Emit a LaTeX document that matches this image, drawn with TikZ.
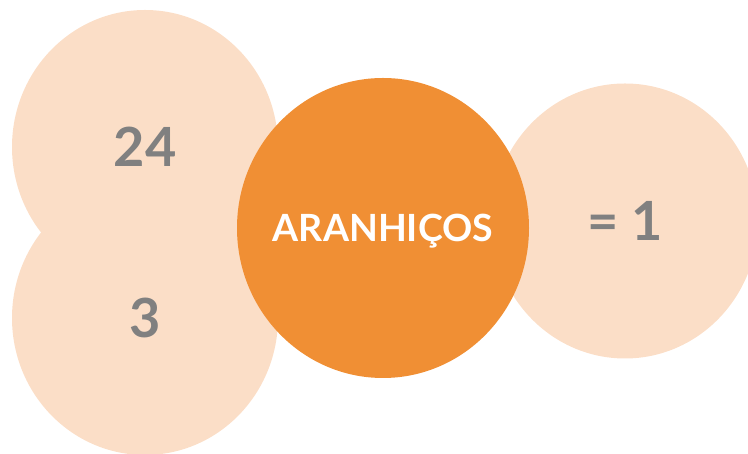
\documentclass[tikz,border=0pt]{standalone}
\usepackage{fontspec}
\setmainfont{Lato}
\usetikzlibrary{shapes.geometric,positioning}
\definecolor{peach}{HTML}{FBDEC7}
\definecolor{tangerine}{HTML}{F08F34}
\definecolor{numgray}{HTML}{808080}
\tikzstyle{bubble} = [ellipse, fill=peach, inner sep=0pt, minimum width=266pt, minimum height=274pt, text=numgray, font=\fontsize{54}{60}\selectfont\bfseries]
\tikzstyle{core} = [ellipse, fill=tangerine, inner sep=0pt, minimum width=292pt, minimum height=300pt, text=white, font=\fontsize{37.5}{42}\selectfont\bfseries]

\begin{document}
\begin{tikzpicture}[x=1pt, y=1pt]
    \useasboundingbox (0,0) rectangle (748,454);
    \clip (0,0) rectangle (748,454);
    \node[bubble] (top) at (145,307) {24};
    \node[bubble] (bottom) at (145,136) {3};
    \node[bubble, minimum height=275pt] (result) at (625,233) {= 1};
    \node[core] (spiders) at (383,226) {\makebox[0pt]{\raisebox{0pt}[\height][0pt]{ARANHIÇOS}}};
\end{tikzpicture}
\end{document}
